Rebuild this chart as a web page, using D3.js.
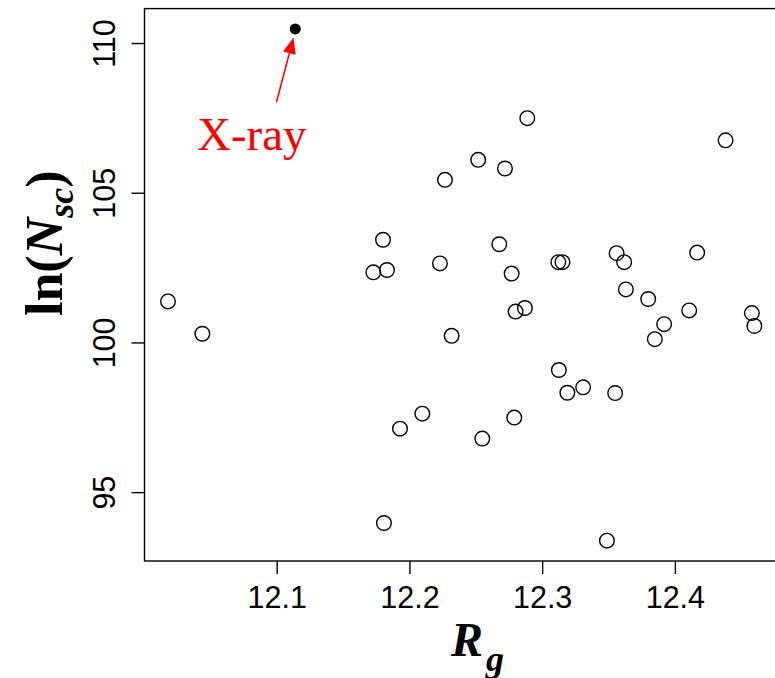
<!DOCTYPE html>
<html>
<head>
<meta charset="utf-8">
<script src="https://cdn.jsdelivr.net/npm/d3@7"></script>
<style>
  html, body { margin: 0; padding: 0; background: #fff; }
  svg { display: block; }
</style>
</head>
<body>
<svg id="chart" width="775" height="678"></svg>
<script>
// Radius of gyration (Rg) against ln(Nsc) for the simulated structures
const rgValues = [
  12.0181, 12.0440, 12.2888, 12.2518, 12.2720, 12.2268, 12.1801, 12.2677,
  12.1728, 12.1831, 12.2230, 12.2770, 12.3122, 12.3153, 12.2800, 12.2870,
  12.2318, 12.3126, 12.3190, 12.3309, 12.3550, 12.2097, 12.1929, 12.2790,
  12.2549, 12.1808, 12.3488, 12.3561, 12.3618, 12.4168, 12.3631, 12.3799,
  12.4108, 12.3919, 12.3849, 12.4580, 12.4599, 12.4382
];
const lnNscValues = [
  101.37, 100.29, 107.49, 106.10, 105.81, 105.43, 103.43, 103.28,
  102.34, 102.42, 102.64, 102.30, 102.68, 102.68, 101.03, 101.15,
  100.22, 99.08, 98.32, 98.50, 98.31, 97.62, 97.12, 97.49,
  96.79, 93.97, 93.38, 102.98, 102.68, 103.00, 101.77, 101.45,
  101.07, 100.61, 100.11, 100.98, 100.55, 106.75
];
// X-ray reference structure
const xrayRg = [12.1140];
const xrayLnNsc = [110.47];
const xrayLabel = ["X-ray"];

const xTicks = [12.1, 12.2, 12.3, 12.4];
const yTicks = [95, 100, 105, 110];
const xLimits = [12.0004, 12.4777];
const yLimits = [92.70, 111.15];

const svg = d3.select("#chart");
const plotLeft = 144.5, plotRight = 778, plotTop = 8.6, plotBottom = 561;

const x = d3.scaleLinear().domain(xLimits).range([plotLeft, plotRight]);
const y = d3.scaleLinear().domain(yLimits).range([plotBottom, plotTop]);

// frame
svg.append("rect")
  .attr("x", plotLeft).attr("y", plotTop)
  .attr("width", plotRight - plotLeft).attr("height", plotBottom - plotTop)
  .attr("fill", "none").attr("stroke", "#000").attr("stroke-width", 1.4);

// x axis
const gx = svg.append("g")
  .attr("transform", `translate(0,${plotBottom})`)
  .call(d3.axisBottom(x).tickValues(xTicks).tickSize(13).tickFormat(d3.format(".1f")));
gx.select(".domain").remove();
gx.selectAll(".tick line").attr("stroke", "#000").attr("stroke-width", 1.4);
gx.selectAll(".tick text")
  .attr("y", 47).attr("dy", null)
  .attr("font-family", "'Liberation Sans', Arial, sans-serif")
  .attr("font-size", 30.5).attr("fill", "#000");

// y axis
const gy = svg.append("g")
  .attr("transform", `translate(${plotLeft},0)`)
  .call(d3.axisLeft(y).tickValues(yTicks).tickSize(13).tickFormat(d3.format("d")));
gy.select(".domain").remove();
gy.selectAll(".tick line").attr("stroke", "#000").attr("stroke-width", 1.4);
gy.selectAll(".tick text")
  .attr("x", null).attr("dy", null)
  .attr("transform", "translate(-29.5,0) rotate(-90)")
  .attr("text-anchor", "middle")
  .attr("font-family", "'Liberation Sans', Arial, sans-serif")
  .attr("font-size", 30.5).attr("fill", "#000");

// open circles
svg.append("g").selectAll("circle")
  .data(d3.range(rgValues.length))
  .join("circle")
  .attr("cx", i => x(rgValues[i]))
  .attr("cy", i => y(lnNscValues[i]))
  .attr("r", 7.3)
  .attr("fill", "none")
  .attr("stroke", "#000")
  .attr("stroke-width", 1.4);

// X-ray point
svg.append("circle")
  .attr("cx", x(xrayRg[0])).attr("cy", y(xrayLnNsc[0]))
  .attr("r", 5.5).attr("fill", "#000");

// arrow pointing to the X-ray point
const tip = [x(xrayRg[0]) - 1.8, y(xrayLnNsc[0]) + 8.7];
const tail = [tip[0] - 17, tip[1] + 64.5];
const ang = Math.atan2(tip[1] - tail[1], tip[0] - tail[0]);
const headLen = 16, headHalf = 6.5;
const bx = tip[0] - headLen * Math.cos(ang), by = tip[1] - headLen * Math.sin(ang);
svg.append("line")
  .attr("x1", tail[0]).attr("y1", tail[1])
  .attr("x2", bx).attr("y2", by)
  .attr("stroke", "red").attr("stroke-width", 1.6);
svg.append("path")
  .attr("d", d3.line()([
    tip,
    [bx + headHalf * Math.sin(ang), by - headHalf * Math.cos(ang)],
    [bx - headHalf * Math.sin(ang), by + headHalf * Math.cos(ang)]
  ]) + "Z")
  .attr("fill", "red");

svg.append("text")
  .attr("x", 197).attr("y", 150)
  .attr("font-family", "'Liberation Serif', 'Times New Roman', serif")
  .attr("font-size", 47).attr("fill", "red")
  .text(xrayLabel[0]);

// axis titles
const xt = svg.append("text")
  .attr("x", 451).attr("y", 656)
  .attr("font-family", "'Liberation Serif', 'Times New Roman', serif")
  .attr("font-weight", "bold").attr("font-style", "italic")
  .attr("font-size", 48).attr("fill", "#000");
xt.append("tspan").text("R");
xt.append("tspan").attr("font-size", 36).attr("dx", 3).attr("dy", 15).text("g");

const yt = svg.append("text")
  .attr("transform", "translate(62,316) rotate(-90)")
  .attr("font-family", "'Liberation Serif', 'Times New Roman', serif")
  .attr("font-weight", "bold")
  .attr("font-size", 52).attr("fill", "#000");
yt.append("tspan").text("ln(");
yt.append("tspan").attr("font-style", "italic").text("N");
yt.append("tspan").attr("font-style", "italic").attr("font-size", 36).attr("dy", 11).text("sc");
yt.append("tspan").attr("dy", -11).text(")");
</script>
</body>
</html>
